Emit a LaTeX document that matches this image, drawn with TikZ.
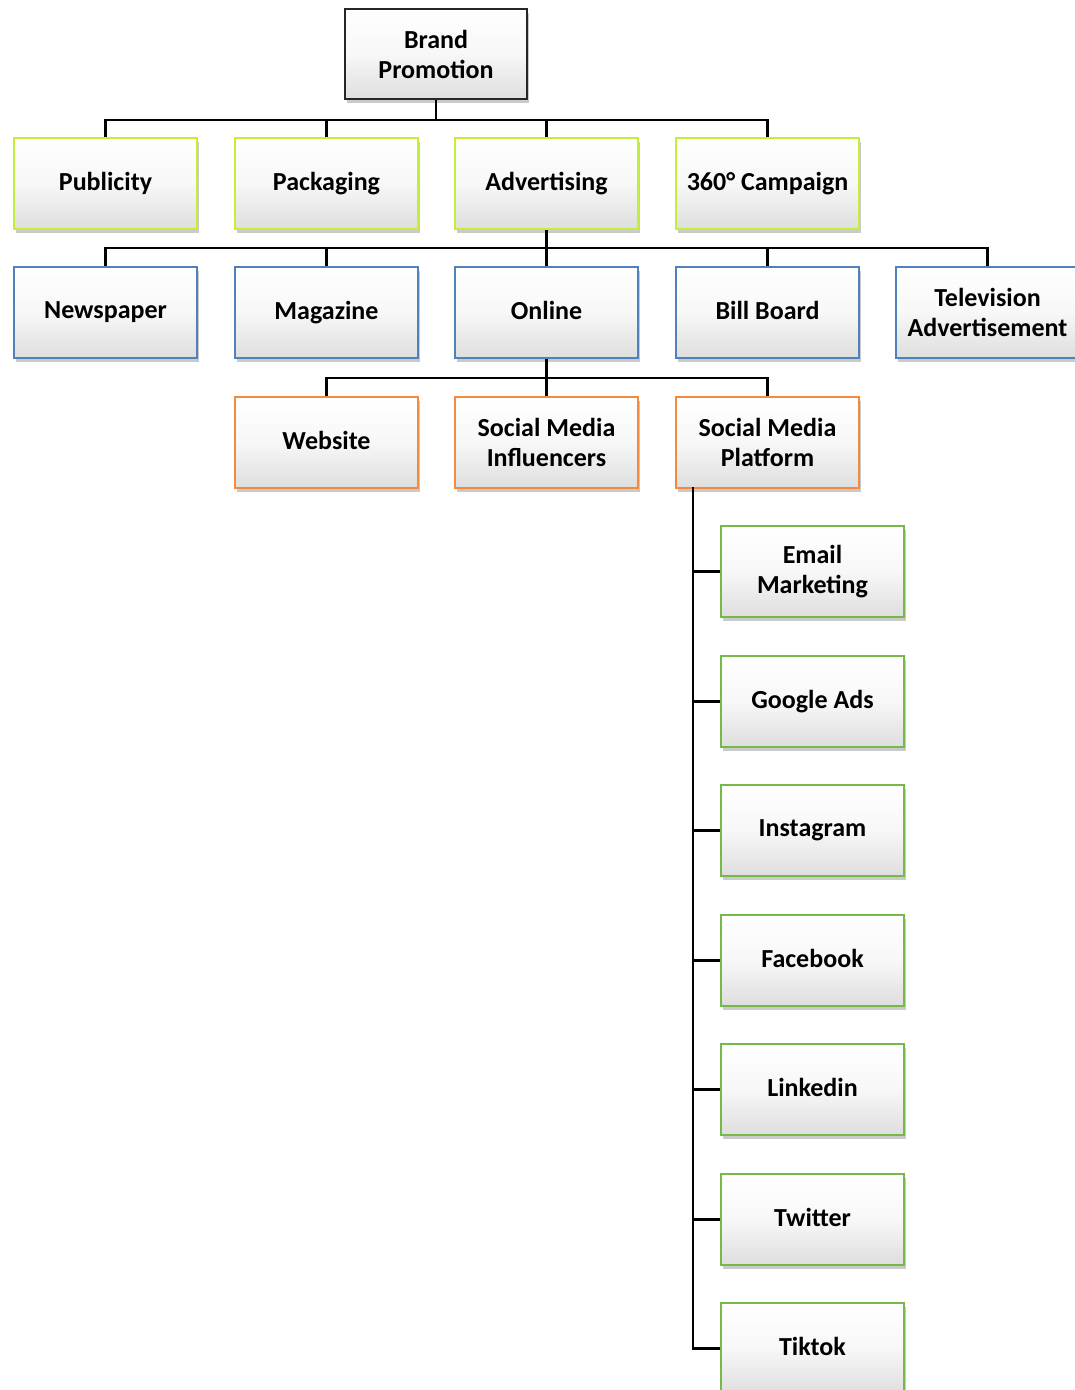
\documentclass[tikz,border=0pt]{standalone}
\usepackage{fontspec}
\setmainfont{Carlito}
\usetikzlibrary{shadows}
\definecolor{limeline}{HTML}{C4EE3A}
\definecolor{blueline}{HTML}{4F81BD}
\definecolor{orangeline}{HTML}{F58A3C}
\definecolor{greenline}{HTML}{77B84A}
\tikzset{
  box/.style={draw, line width=2pt, anchor=north west, minimum width=183pt, minimum height=91pt,
    inner sep=2pt, align=center, top color=white, bottom color=black!13, middle color=black!3,
    font=\fontsize{26}{30}\selectfont\bfseries,
    drop shadow={shadow xshift=2pt, shadow yshift=-4pt, opacity=0.35, fill=black!60}},
  rootbox/.style={box, draw=black!85},
  limebox/.style={box, draw=limeline},
  bluebox/.style={box, draw=blueline},
  orangebox/.style={box, draw=orangeline},
  greenbox/.style={box, draw=greenline},
  link/.style={draw=black, line width=2.5pt},
}
\begin{document}
\begin{tikzpicture}[x=1pt,y=-1pt]
\useasboundingbox (0,0) rectangle (1075,1390);
\clip (0,0) rectangle (1075,1390);

% root
\node[rootbox, minimum width=182pt, minimum height=90pt] (root) at (344,8) {Brand\\Promotion};

% first level
\node[limebox] (pub) at (13,137) {Publicity};
\node[limebox] (pack) at (234,137) {Packaging};
\node[limebox] (adv) at (454,137) {Advertising};
\node[limebox] (camp) at (675,137) {360° Campaign};

% advertising channels
\node[bluebox] (news) at (13,266) {Newspaper\vphantom{g}};
\node[bluebox] (mag) at (234,266) {Magazine};
\node[bluebox] (online) at (454,266) {Online\vphantom{g}};
\node[bluebox] (bill) at (675,266) {Bill Board\vphantom{g}};
\node[bluebox] (tv) at (895,266) {Television\\Advertisement};

% online channels
\node[orangebox] (web) at (234,396) {Website\vphantom{g}};
\node[orangebox] (smi) at (454,396) {Social Media\\Influencers};
\node[orangebox] (smp) at (675,396) {Social Media\\Platform};

% platforms
\node[greenbox] (mail) at (720,525) {Email\\Marketing};
\node[greenbox] (gads) at (720,655) {Google Ads};
\node[greenbox] (insta) at (720,784) {Instagram};
\node[greenbox] (fb) at (720,914) {Facebook\vphantom{g}};
\node[greenbox] (li) at (720,1043) {Linkedin\vphantom{g}};
\node[greenbox] (tw) at (720,1173) {Twitter\vphantom{g}};
\node[greenbox] (tt) at (720,1302) {Tiktok\vphantom{g}};

% connectors: root to first level
\draw[link] (root.south) -- ++(0,20) coordinate (j1);
\foreach \n in {pub,pack,adv,camp}
  \draw[link] (j1) -| (\n.north);

% advertising to channels
\draw[link] (adv.south) -- ++(0,18) coordinate (j2);
\foreach \n in {news,mag,online,bill,tv}
  \draw[link] (j2) -| (\n.north);

% online to its channels
\draw[link] (online.south) -- ++(0,19) coordinate (j3);
\foreach \n in {web,smi,smp}
  \draw[link] (j3) -| (\n.north);

% platform spine
\coordinate (spine) at (693,487);
\foreach \n in {mail,gads,insta,fb,li,tw,tt}
  \draw[link] (spine) |- (\n.west);
\end{tikzpicture}
\end{document}
